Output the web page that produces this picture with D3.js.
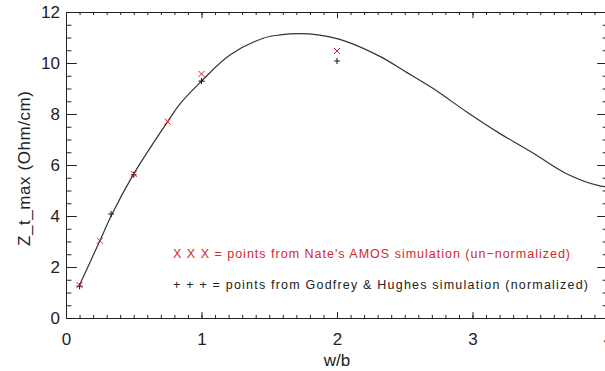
<!DOCTYPE html>
<html>
<head>
<meta charset="utf-8">
<script src="https://cdn.jsdelivr.net/npm/d3@7"></script>
<style>
  html, body { margin: 0; padding: 0; background: #fff; overflow: hidden; }
  text { font-family: "Liberation Sans", Arial, sans-serif; }
</style>
</head>
<body>
<div id="chart"></div>
<script>
// model curve Z_t_max vs w/b
const curveX = [0.1, 0.25, 0.34, 0.5, 0.75, 0.84, 1.0, 1.21, 1.455, 1.58, 1.72, 1.86, 2.07, 2.32, 2.5, 2.71, 2.955, 3.2, 3.45, 3.69, 3.94, 4.0];
const curveY = [1.29, 3.03, 4.08, 5.65, 7.7, 8.39, 9.29, 10.31, 10.97, 11.1, 11.15, 11.1, 10.84, 10.25, 9.68, 9.0, 8.09, 7.24, 6.46, 5.67, 5.18, 5.15];

// Nate's AMOS simulation (red x)
const amosX = [0.1, 0.25, 0.5, 0.75, 1.0, 2.0];
const amosY = [1.29, 3.03, 5.65, 7.7, 9.57, 10.47];

// Godfrey & Hughes simulation (black +)
const ghX = [0.1, 0.333, 0.5, 1.0, 2.0];
const ghY = [1.25, 4.08, 5.62, 9.29, 10.08];

const xTicks = [0, 1, 2, 3, 4];
const yTicks = [0, 2, 4, 6, 8, 10, 12];

const width = 605, height = 371;
const margin = { left: 66, right: -3, top: 12, bottom: 53 };
const plotW = width - margin.left - margin.right;
const plotH = height - margin.top - margin.bottom;

const RED = '#cc2b2b';
const INK = '#222';

const svg = d3.select('#chart').append('svg')
  .attr('width', width)
  .attr('height', height);

const x = d3.scaleLinear().domain([0, 4]).range([0, plotW]);
const y = d3.scaleLinear().domain([0, 12]).range([plotH, 0]);

const g = svg.append('g').attr('transform', `translate(${margin.left},${margin.top})`);

// ticks go inward on all four sides, IDL style
const xMajor = 0.02 * plotH, yMajor = 0.02 * plotW;
const xMinorVals = d3.range(0, 4.0001, 0.1);
const yMinorVals = d3.range(0, 12.0001, 0.5);

function styleAxis(sel) {
  sel.selectAll('path.domain').attr('stroke', INK).attr('stroke-width', 1);
  sel.selectAll('line').attr('stroke', INK).attr('stroke-width', 1);
  sel.selectAll('text').attr('fill', INK).attr('font-size', 17)
    .attr('font-family', '"Liberation Sans", Arial, sans-serif');
}

// bottom
g.append('g').attr('transform', `translate(0,${plotH})`)
  .call(d3.axisBottom(x).tickValues(xMinorVals).tickFormat('').tickSize(-xMajor / 2).tickSizeOuter(0))
  .call(styleAxis);
g.append('g').attr('transform', `translate(0,${plotH})`)
  .call(d3.axisBottom(x).tickValues(xTicks).tickFormat(d3.format('d')).tickSize(-xMajor).tickSizeOuter(0).tickPadding(15))
  .call(styleAxis);
// top
g.append('g')
  .call(d3.axisTop(x).tickValues(xMinorVals).tickFormat('').tickSize(-xMajor / 2).tickSizeOuter(0))
  .call(styleAxis);
g.append('g')
  .call(d3.axisTop(x).tickValues(xTicks).tickFormat('').tickSize(-xMajor).tickSizeOuter(0))
  .call(styleAxis);
// left
g.append('g')
  .call(d3.axisLeft(y).tickValues(yMinorVals).tickFormat('').tickSize(-yMajor / 2).tickSizeOuter(0))
  .call(styleAxis);
g.append('g')
  .call(d3.axisLeft(y).tickValues(yTicks).tickFormat(d3.format('d')).tickSize(-yMajor).tickSizeOuter(0).tickPadding(6))
  .call(styleAxis);
// right
g.append('g').attr('transform', `translate(${plotW},0)`)
  .call(d3.axisRight(y).tickValues(yMinorVals).tickFormat('').tickSize(-yMajor / 2).tickSizeOuter(0))
  .call(styleAxis);
g.append('g').attr('transform', `translate(${plotW},0)`)
  .call(d3.axisRight(y).tickValues(yTicks).tickFormat('').tickSize(-yMajor).tickSizeOuter(0))
  .call(styleAxis);

// curve
const curvePts = curveX.map((v, i) => [v, curveY[i]]);
g.append('path')
  .datum(curvePts)
  .attr('fill', 'none')
  .attr('stroke', '#333')
  .attr('stroke-width', 1.2)
  .attr('d', d3.line().x(d => x(d[0])).y(d => y(d[1])).curve(d3.curveCatmullRom));

// black + markers
const ms = 3;
g.append('g').selectAll('path')
  .data(ghX.map((v, i) => [v, ghY[i]]))
  .join('path')
  .attr('d', d => `M${x(d[0]) - ms},${y(d[1])}h${2 * ms}M${x(d[0])},${y(d[1]) - ms}v${2 * ms}`)
  .attr('stroke', INK)
  .attr('stroke-width', 1.1);

// red x markers
g.append('g').selectAll('path')
  .data(amosX.map((v, i) => [v, amosY[i]]))
  .join('path')
  .attr('d', d => `M${x(d[0]) - ms},${y(d[1]) - ms}l${2 * ms},${2 * ms}M${x(d[0]) - ms},${y(d[1]) + ms}l${2 * ms},${-2 * ms}`)
  .attr('stroke', RED)
  .attr('stroke-width', 1);

// legend notes (wide IDL font, so stretch spacing to the picture's width)
svg.append('text')
  .attr('x', 173).attr('y', 257.5)
  .attr('font-size', 12.5)
  .attr('font-family', '"DejaVu Sans", sans-serif')
  .attr('textLength', 397)
  .attr('lengthAdjust', 'spacing')
  .attr('fill', RED)
  .text("X X X = points from Nate's AMOS simulation (un\u2212normalized)");
svg.append('text')
  .attr('x', 173).attr('y', 289)
  .attr('font-size', 12.5)
  .attr('font-family', '"DejaVu Sans", sans-serif')
  .attr('textLength', 415)
  .attr('lengthAdjust', 'spacing')
  .attr('fill', INK)
  .text('+ + + = points from Godfrey & Hughes simulation (normalized)');

// axis titles
svg.append('text')
  .attr('x', margin.left + x(2)).attr('y', 366)
  .attr('text-anchor', 'middle')
  .attr('font-size', 17)
  .attr('fill', INK)
  .text('w/b');
svg.append('text')
  .attr('transform', `translate(29.5,168.5) rotate(-90)`)
  .attr('text-anchor', 'middle')
  .attr('font-size', 17)
  .attr('textLength', 155)
  .attr('lengthAdjust', 'spacing')
  .attr('fill', INK)
  .text('Z_t_max (Ohm/cm)');
</script>
</body>
</html>
